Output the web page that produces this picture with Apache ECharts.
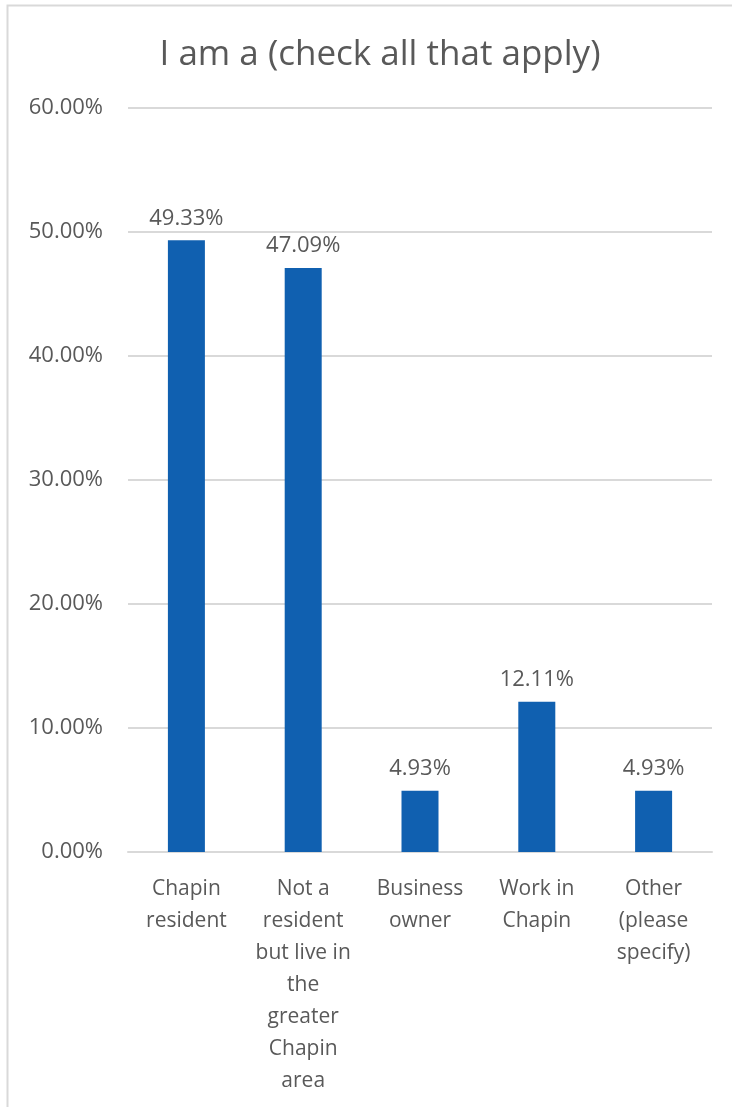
<!DOCTYPE html>
<html>
<head>
<meta charset="utf-8">
<style>
  html, body { margin: 0; padding: 0; background: #fff; }
  #chart { width: 732px; height: 1107px; }
</style>
<script src="https://cdn.jsdelivr.net/npm/echarts@6/dist/echarts.min.js"></script>
</head>
<body>
<div id="chart"></div>
<script>
// Survey responses: respondent roles (multiple selection allowed)
const categories = [
  'Chapin\nresident',
  'Not a\nresident\nbut live in\nthe\ngreater\nChapin\narea',
  'Business\nowner',
  'Work in\nChapin',
  'Other\n(please\nspecify)'
];
const percentages = [49.33, 47.09, 4.93, 12.11, 4.93];
const yTicks = { min: 0, max: 60, step: 10 };

const FONT = '"Open Sans", "Noto Sans", sans-serif';
const TEXT = '#595959';
const LINE = '#d9d9d9';

const chart = echarts.init(document.getElementById('chart'), null, { renderer: 'canvas' });
chart.setOption({
  animation: false,
  backgroundColor: '#fff',
  graphic: [{
    type: 'rect',
    shape: { x: 7.5, y: 5.5, width: 800, height: 1200 },
    style: { fill: 'none', stroke: LINE, lineWidth: 2 },
    silent: true
  }],
  title: {
    text: 'I am a (check all that apply)',
    left: 375, top: 33, textAlign: 'center',
    textStyle: { fontFamily: FONT, fontSize: 35, fontWeight: 'normal', color: TEXT }
  },
  grid: { left: 128, right: 20, top: 108, bottom: 255, containLabel: false },
  xAxis: {
    type: 'category',
    data: categories,
    axisLine: { lineStyle: { color: LINE, width: 2 } },
    axisTick: { show: false },
    axisLabel: {
      interval: 0, margin: 21, lineHeight: 32,
      fontFamily: FONT, fontSize: 21, color: TEXT, align: 'center'
    }
  },
  yAxis: {
    type: 'value',
    min: yTicks.min, max: yTicks.max, interval: yTicks.step,
    axisLine: { show: false },
    axisTick: { show: false },
    splitLine: { lineStyle: { color: LINE, width: 2 } },
    axisLabel: {
      margin: 25, fontFamily: FONT, fontSize: 22, color: TEXT,
      formatter: v => v.toFixed(2) + '%'
    }
  },
  series: [{
    type: 'bar',
    data: percentages,
    barWidth: 37,
    itemStyle: { color: '#1060b0' },
    label: {
      show: true, position: 'top', distance: 11,
      fontFamily: FONT, fontSize: 22, color: TEXT,
      formatter: p => p.value.toFixed(2) + '%'
    }
  }]
});
</script>
</body>
</html>
